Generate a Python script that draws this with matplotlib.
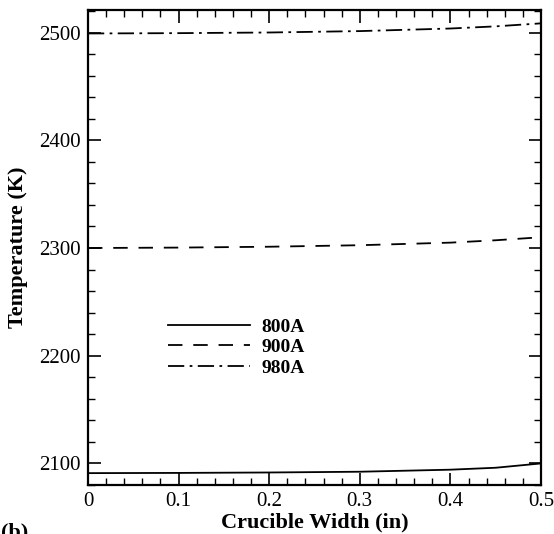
import matplotlib
matplotlib.use('Agg')
import matplotlib.pyplot as plt
from matplotlib.ticker import MultipleLocator, FuncFormatter

plt.rcParams['font.family'] = ['Liberation Serif', 'DejaVu Serif']

# 读图数据
width_in = [0.0, 0.1, 0.2, 0.3, 0.4, 0.45, 0.5]
t_800a = [2091.0, 2091.2, 2091.6, 2092.3, 2094.2, 2096.0, 2100.0]
t_900a = [2300.0, 2300.4, 2301.2, 2302.6, 2305.0, 2307.2, 2310.0]
t_980a = [2499.2, 2499.5, 2500.1, 2501.4, 2503.8, 2505.8, 2508.6]
labels = ['800A', '900A', '980A']

fig = plt.figure(figsize=(5.54, 5.34), dpi=100)
ax = fig.add_axes([0.1588, 0.0918, 0.8177, 0.8895])

ax.plot(width_in, t_800a, color='black', lw=1.3, label=labels[0])
ax.plot(width_in, t_900a, color='black', lw=1.3, dashes=(8, 6), label=labels[1])
ax.plot(width_in, t_980a, color='black', lw=1.3, dashes=(9, 3, 1.5, 3), label=labels[2])

ax.set_xlim(0, 0.5)
ax.set_ylim(2080, 2521)
ax.xaxis.set_major_locator(MultipleLocator(0.1))
ax.xaxis.set_minor_locator(MultipleLocator(0.02))
ax.yaxis.set_major_locator(MultipleLocator(100))
ax.yaxis.set_minor_locator(MultipleLocator(20))
ax.xaxis.set_major_formatter(FuncFormatter(lambda v, p: '0' if abs(v) < 1e-9 else f'{v:.1f}'))
ax.tick_params(which='both', direction='in', top=True, right=True, labelsize=15)
ax.tick_params(which='major', length=9, width=1.2, pad=5)
ax.tick_params(which='minor', length=5, width=1.0)
for s in ax.spines.values():
    s.set_linewidth(1.6)

ax.set_xlabel('Crucible Width (in)', fontsize=16, fontweight='bold', labelpad=1)
ax.set_ylabel('Temperature (K)', fontsize=16, fontweight='bold', labelpad=8)

ax.legend(loc='upper left', bbox_to_anchor=(0.16, 0.368), frameon=False,
          handlelength=4.2, prop={'weight': 'bold', 'size': 14},
          labelspacing=0.15, handletextpad=0.6, borderaxespad=0)

fig.text(0.002, 0.022, '(b)', fontsize=16, fontweight='bold', ha='left', va='top')

plt.savefig('out.png', dpi=100)
